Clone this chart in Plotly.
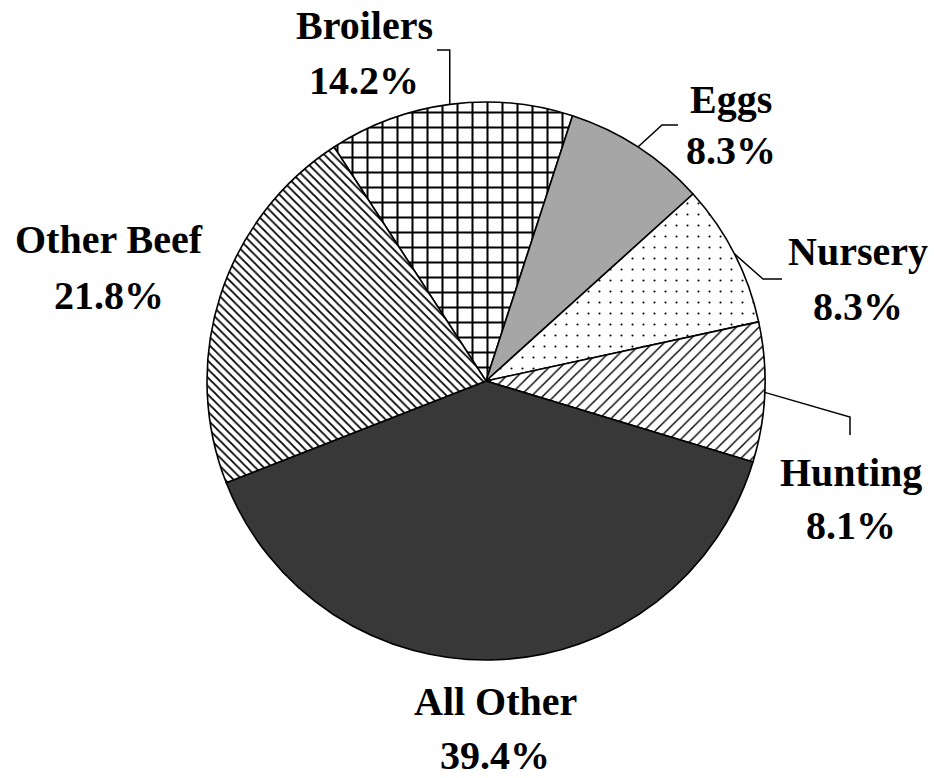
import math
import plotly.graph_objects as go

# ---- data ----
labels = ["Broilers", "Eggs", "Nursery", "Hunting", "All Other", "Other Beef"]
values = [14.2, 8.3, 8.3, 8.1, 39.4, 21.8]

# ---- styling ----
fills = ["white", "#a6a6a6", "white", "white", "#383838", "white"]
pat_shapes = ["+", "", ".", "/", "", "\\"]
pat_sizes = [15, 8, 11, 8, 8, 6]
pat_solid = [0.25, 0.3, 0.03, 0.17, 0.3, 0.3]

W, H = 934, 778
CX, CY, R = 486, 381, 279
ROTATION = -33  # start of first slice, degrees clockwise from 12 o'clock

# label centre x and baselines of the two text lines (pixels)
label_pos = {
    "Broilers": (364, 39, 93),
    "Eggs": (731, 113, 164),
    "Nursery": (858, 265, 320),
    "Hunting": (851, 485, 538),
    "All Other": (495, 714, 768),
    "Other Beef": (109, 253, 308),
}
leader_knees = {
    "Broilers": [(None, 50), (437, 50)],
    "Eggs": [(662, 125), (678, 125)],
    "Nursery": [(763, 279), (782, 279)],
    "Hunting": [(850, 417), (850, 435)],
}


def px(x):
    return x / W


def py(y):
    return 1 - y / H


fig = go.Figure(
    go.Pie(
        labels=labels,
        values=values,
        sort=False,
        direction="clockwise",
        rotation=ROTATION,
        textinfo="none",
        hoverinfo="label+percent",
        showlegend=False,
        marker=dict(
            colors=fills,
            line=dict(color="black", width=1.6),
            pattern=dict(
                shape=pat_shapes,
                fgcolor="black",
                bgcolor=fills,
                size=pat_sizes,
                solidity=pat_solid,
                fillmode="replace",
            ),
        ),
        domain=dict(x=[px(CX - R), px(CX + R)], y=[py(CY + R), py(CY - R)]),
    )
)

# mid-angles from the data
total = sum(values)
mid_angle = {}
acc = ROTATION
for lab, v in zip(labels, values):
    span = v / total * 360
    mid_angle[lab] = acc + span / 2
    acc += span

annotations = []
shapes = []
font = dict(family="Liberation Serif, Times New Roman, serif", size=40, color="black")
for lab, v in zip(labels, values):
    x, b1, b2 = label_pos[lab]
    for txt, base in ((lab, b1), (f"{v:.1f}%", b2)):
        annotations.append(
            dict(
                x=px(x), y=py(base - 13), xref="paper", yref="paper",
                text=f"<b>{txt}</b>", showarrow=False, borderpad=0,
                xanchor="center", yanchor="middle", font=font,
            )
        )
    if lab in leader_knees:
        a = math.radians(mid_angle[lab])
        ex = CX + R * math.sin(a)
        ey = CY - R * math.cos(a)
        pts = [(ex, ey)]
        for kx, ky in leader_knees[lab]:
            pts.append((ex if kx is None else kx, ky))
        path = "M " + " L ".join(f"{px(p[0])},{py(p[1])}" for p in pts)
        shapes.append(
            dict(type="path", path=path, xref="paper", yref="paper",
                 line=dict(color="black", width=1.5))
        )

fig.update_layout(
    width=W, height=H,
    margin=dict(l=0, r=0, t=0, b=0),
    paper_bgcolor="white", plot_bgcolor="white",
    annotations=annotations, shapes=shapes,
)

fig.write_html(
    "out.html",
    config={"displayModeBar": False},
    post_script="document.body.style.margin='0';document.body.style.overflow='hidden';",
)
